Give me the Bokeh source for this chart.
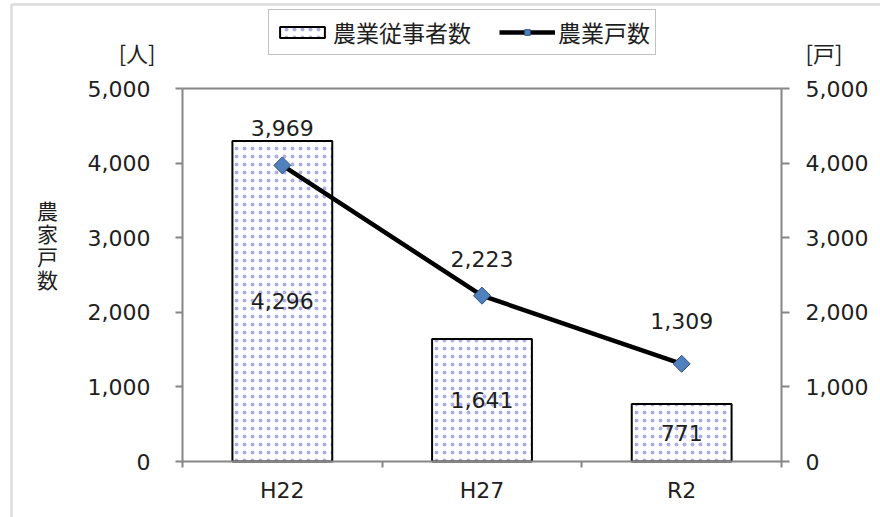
from bokeh.plotting import figure
from bokeh.models import (ColumnDataSource, Range1d, LinearAxis, FixedTicker,
                          NumeralTickFormatter, Legend, LegendItem, Label, BoxAnnotation)
from bokeh.core.properties import value
from bokeh.embed import file_html
from bokeh.resources import INLINE
import math

# ---- data ----
categories = ["H22", "H27", "R2"]
workers = [4296, 1641, 771]          # 農業従事者数 [人]
households = [3969, 2223, 1309]      # 農業戸数 [戸]
y_ticks = [0, 1000, 2000, 3000, 4000, 5000]
series_names = ["農業従事者数", "農業戸数"]
left_unit = "[人]"
right_unit = "[戸]"
left_title = "農家戸数"

# ---- layout (pixels) ----
W, H = 880, 517
PL, PR, PT, PB = 182, 781, 88, 461    # plot area edges
YMAX = 5000
NCAT = len(categories)
ux = NCAT / (PR - PL)
uy = YMAX / (PB - PT)
x_rng = (0 - PL * ux, NCAT + (W - PR) * ux)
y_rng = (-(H - PB) * uy, YMAX + PT * uy)

# ---- derived ----
centers = [i + 0.5 for i in range(NCAT)]
bounds = [float(i) for i in range(NCAT + 1)]
src = ColumnDataSource(dict(
    x=centers,
    workers=workers,
    workers_mid=[v / 2 for v in workers],
    workers_lbl=[f"{v:,}" for v in workers],
    households=households,
    households_lbl=[f"{v:,}" for v in households],
    hh_offset=[-37, -37, -43],
))

NUM_FONT = "DejaVu Sans"
JP_FONT = "Noto Sans CJK JP"
TXT = "#1e1e1e"
AX = "#868686"

p = figure(width=W, height=H, min_border=0,
           x_range=Range1d(*x_rng), y_range=Range1d(*y_rng),
           output_backend="svg", toolbar_location=None,
           x_axis_location=None, y_axis_location=None)
p.min_border_left = p.min_border_right = p.min_border_top = p.min_border_bottom = 0
p.extra_y_ranges = {"right": Range1d(*y_rng)}
p.xgrid.visible = False
p.ygrid.visible = False
p.outline_line_color = None
p.background_fill_color = "white"
p.border_fill_color = "white"

def style_y(ax, standoff, tick_out):
    ax.ticker = FixedTicker(ticks=y_ticks)
    ax.formatter = NumeralTickFormatter(format="0,0")
    ax.bounds = (0, YMAX)
    ax.axis_line_color = AX
    ax.axis_line_width = 2
    ax.major_tick_line_color = AX
    ax.major_tick_line_width = 2
    ax.major_tick_out = tick_out
    ax.major_tick_in = 0
    ax.minor_tick_line_color = None
    ax.major_label_text_font = NUM_FONT
    ax.major_label_text_font_size = "22px"
    ax.major_label_text_color = TXT
    ax.major_label_standoff = standoff

yl = LinearAxis(fixed_location=0)
style_y(yl, 25, 7)
p.add_layout(yl, "left")
yr = LinearAxis(y_range_name="right", fixed_location=NCAT)
style_y(yr, 16, 8)
p.add_layout(yr, "right")

xa = LinearAxis(fixed_location=0)
xa.ticker = FixedTicker(ticks=centers, minor_ticks=bounds)
xa.bounds = (0, NCAT)
xa.major_label_overrides = {c: lab for c, lab in zip(centers, categories)}
xa.axis_line_color = AX
xa.axis_line_width = 2
xa.major_tick_line_color = None
xa.major_tick_out = 0
xa.minor_tick_line_color = AX
xa.minor_tick_line_width = 2
xa.minor_tick_out = 6
xa.minor_tick_in = 0
xa.major_label_text_font = NUM_FONT
xa.major_label_text_font_size = "22px"
xa.major_label_text_color = TXT
xa.major_label_standoff = 10
p.add_layout(xa, "below")

xt = LinearAxis(fixed_location=YMAX)
xt.ticker = FixedTicker(ticks=[])
xt.bounds = (0, NCAT)
xt.axis_line_color = AX
xt.axis_line_width = 2
xt.major_tick_line_color = None
xt.minor_tick_line_color = None
xt.major_label_text_font_size = "0px"
p.add_layout(xt, "above")

bars = p.vbar(x="x", top="workers", width=0.5, source=src,
              fill_color="white", line_color="black", line_width=2,
              hatch_pattern=".", hatch_color="#2a2ab8", hatch_scale=8,
              hatch_weight=0.4, hatch_alpha=0.38)

ln = p.line(x="x", y="households", source=src, y_range_name="right",
            line_color="black", line_width=4.5)
mk = p.scatter(x="x", y="households", source=src, y_range_name="right",
               marker="square", angle=math.pi / 4, size=12,
               fill_color="#4F81BD", line_color="#2F4F7F", line_width=1)

p.text(x="x", y="workers_mid", text="workers_lbl", source=src,
       text_font=value(NUM_FONT), text_font_size="22px", text_color=TXT,
       text_align="center", text_baseline="middle")
p.text(x="x", y="households", text="households_lbl", source=src,
       y_range_name="right", y_offset="hh_offset",
       text_font=value(NUM_FONT), text_font_size="22px", text_color=TXT,
       text_align="center", text_baseline="middle")

legend = Legend(items=[LegendItem(label=series_names[0], renderers=[bars]),
                       LegendItem(label=series_names[1], renderers=[ln, mk])],
                location=(268, H - 55), orientation="horizontal",
                label_text_font=JP_FONT, label_text_font_size="23px",
                label_text_color=TXT, label_height=20,
                border_line_color=AX, border_line_width=1.5,
                background_fill_color="white", background_fill_alpha=1,
                padding=5, spacing=28, glyph_width=56, glyph_height=14,
                label_standoff=3, margin=0)
p.add_layout(legend, "center")

p.add_layout(Label(x=155, y=H - 51, x_units="screen", y_units="screen",
                   text=left_unit, text_font=JP_FONT, text_font_size="22px",
                   text_color=TXT, text_align="right", text_baseline="middle"))
p.add_layout(Label(x=805, y=H - 51, x_units="screen", y_units="screen",
                   text=right_unit, text_font=JP_FONT, text_font_size="22px",
                   text_color=TXT, text_align="left", text_baseline="middle"))
for i, ch in enumerate(left_title):
    p.add_layout(Label(x=47, y=H - 209 - 23 * i, x_units="screen", y_units="screen",
                       text=ch, text_font=JP_FONT, text_font_size="21px",
                       text_color=TXT, text_align="center", text_baseline="middle"))

p.add_layout(BoxAnnotation(left=11, right=W + 50, top=4, bottom=H + 50,
                           left_units="canvas", right_units="canvas",
                           top_units="canvas", bottom_units="canvas",
                           fill_alpha=0, line_color="#8a8a8a", line_width=2.5))

open("out.html", "w").write(file_html(p, INLINE))
